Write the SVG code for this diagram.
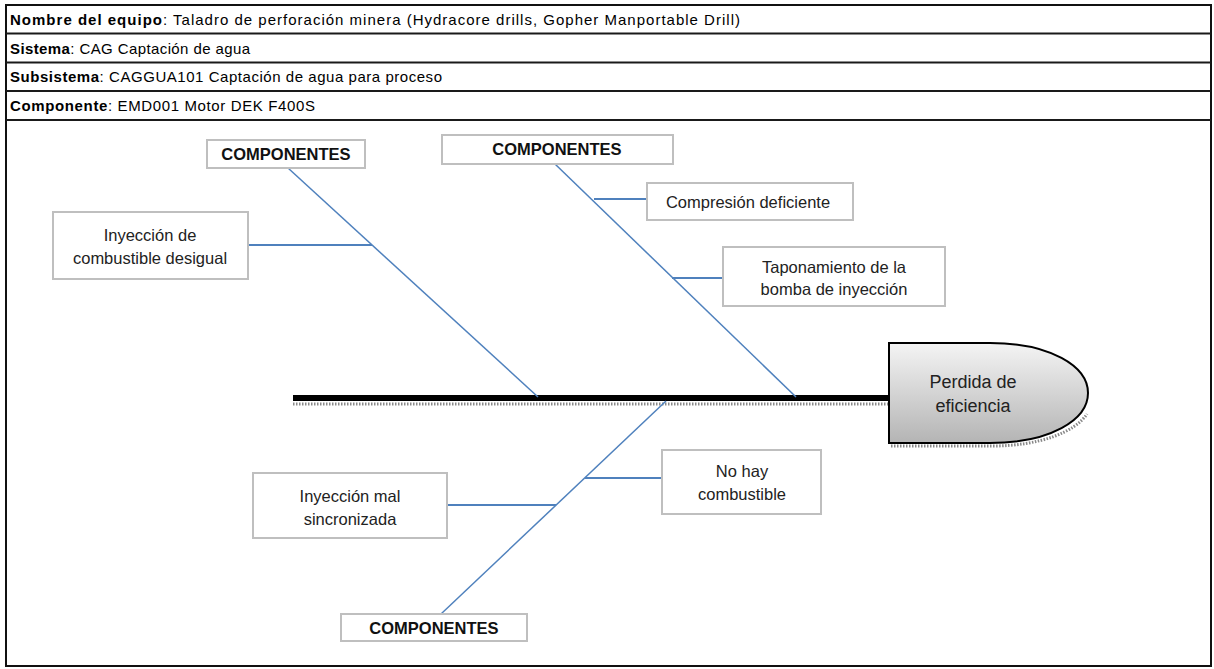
<svg xmlns="http://www.w3.org/2000/svg" width="1214" height="669" viewBox="0 0 1214 669">
<defs>
<linearGradient id="headGrad" x1="0" y1="0" x2="0" y2="1">
<stop offset="0" stop-color="#f4f4f4"/>
<stop offset="1" stop-color="#b4b4b4"/>
</linearGradient>
<style>
.hdr{font-family:"Liberation Sans",Arial,sans-serif;font-size:15px;fill:#000}
.b{font-weight:bold}
.box{fill:#fff;stroke:#bfbfbf;stroke-width:2}
.lbl{font-family:"Liberation Sans",Arial,sans-serif;font-size:16.5px;fill:#222;text-anchor:middle}
.cmp{font-family:"Liberation Sans",Arial,sans-serif;font-size:16.5px;font-weight:bold;fill:#111;text-anchor:middle}
.bone{stroke:#4f81bd;stroke-width:1.5;fill:none}
.rib{stroke:#4f81bd;stroke-width:2;fill:none}
.rule{stroke:#1a1a1a;stroke-width:2}
</style>
</defs>
<rect x="0" y="0" width="1214" height="669" fill="#fff"/>
<g id="header">
<rect x="6" y="5" width="1205" height="661" fill="none" stroke="#111" stroke-width="2"/>
<line class="rule" x1="6" y1="33.5" x2="1211" y2="33.5"/>
<line class="rule" x1="6" y1="62.5" x2="1211" y2="62.5"/>
<line class="rule" x1="6" y1="91" x2="1211" y2="91"/>
<line class="rule" x1="6" y1="120" x2="1211" y2="120"/>
<text class="hdr" x="10" y="25" textLength="730" lengthAdjust="spacing"><tspan class="b">Nombre del equipo</tspan>: Taladro de perforación minera (Hydracore drills, Gopher Manportable Drill)</text>
<text class="hdr" x="10" y="53.5" textLength="240" lengthAdjust="spacing"><tspan class="b">Sistema</tspan>: CAG Captación de agua</text>
<text class="hdr" x="10" y="82" textLength="432" lengthAdjust="spacing"><tspan class="b">Subsistema</tspan>: CAGGUA101 Captación de agua para proceso</text>
<text class="hdr" x="10" y="111" textLength="305" lengthAdjust="spacing"><tspan class="b">Componente</tspan>: EMD001 Motor DEK F400S</text>
</g>
<g id="connectors">
<line x1="293" y1="404" x2="888" y2="404" stroke="#8a8a8a" stroke-width="3" stroke-dasharray="1.5,1.5"/>
<line x1="293" y1="398" x2="889" y2="398" stroke="#000" stroke-width="6"/>
<line class="bone" x1="288" y1="168" x2="538" y2="397"/>
<line class="bone" x1="555" y1="164" x2="796" y2="397"/>
<line class="bone" x1="666" y1="401" x2="441" y2="614"/>
<line class="rib" x1="248" y1="245" x2="372" y2="245"/>
<line class="rib" x1="594" y1="199" x2="647" y2="199"/>
<line class="rib" x1="672" y1="278" x2="723" y2="278"/>
<line class="rib" x1="585" y1="478" x2="662" y2="478"/>
<line class="rib" x1="447" y1="505" x2="556" y2="505"/>
</g>
<g id="head">
<path d="M891,446 L992,446 C1040,446 1075,432 1087,414" fill="none" stroke="#888" stroke-width="3" stroke-dasharray="1.5,1.5"/>
<path d="M889,343 L990,343 C1050,343 1088,366 1088,393 C1088,420 1050,443 990,443 L889,443 Z" fill="url(#headGrad)" stroke="#000" stroke-width="2"/>
<text class="lbl" x="973" y="388" style="font-size:18px">Perdida de</text>
<text class="lbl" x="973" y="412" style="font-size:18px">eficiencia</text>
</g>
<g id="cat-top-left">
<rect class="box" x="207" y="140" width="158" height="28"/>
<text class="cmp" x="286" y="160">COMPONENTES</text>
</g>
<g id="cat-top-mid">
<rect class="box" x="442" y="135" width="231" height="29"/>
<text class="cmp" x="557" y="155">COMPONENTES</text>
</g>
<g id="cat-bottom">
<rect class="box" x="341" y="614" width="186" height="27"/>
<text class="cmp" x="434" y="634">COMPONENTES</text>
</g>
<g id="cause-inyeccion-desigual">
<rect class="box" x="53" y="212" width="195" height="67"/>
<text class="lbl" x="150" y="241">Inyección de</text>
<text class="lbl" x="150" y="264">combustible desigual</text>
</g>
<g id="cause-compresion">
<rect class="box" x="647" y="183" width="206" height="37"/>
<text class="lbl" x="748" y="208">Compresión deficiente</text>
</g>
<g id="cause-taponamiento">
<rect class="box" x="723" y="247" width="222" height="59"/>
<text class="lbl" x="834" y="273">Taponamiento de la</text>
<text class="lbl" x="834" y="295">bomba de inyección</text>
</g>
<g id="cause-no-combustible">
<rect class="box" x="662" y="450" width="159" height="64"/>
<text class="lbl" x="742" y="477">No hay</text>
<text class="lbl" x="742" y="500">combustible</text>
</g>
<g id="cause-inyeccion-mal">
<rect class="box" x="253" y="473" width="194" height="65"/>
<text class="lbl" x="350" y="502">Inyección mal</text>
<text class="lbl" x="350" y="525">sincronizada</text>
</g>
</svg>
